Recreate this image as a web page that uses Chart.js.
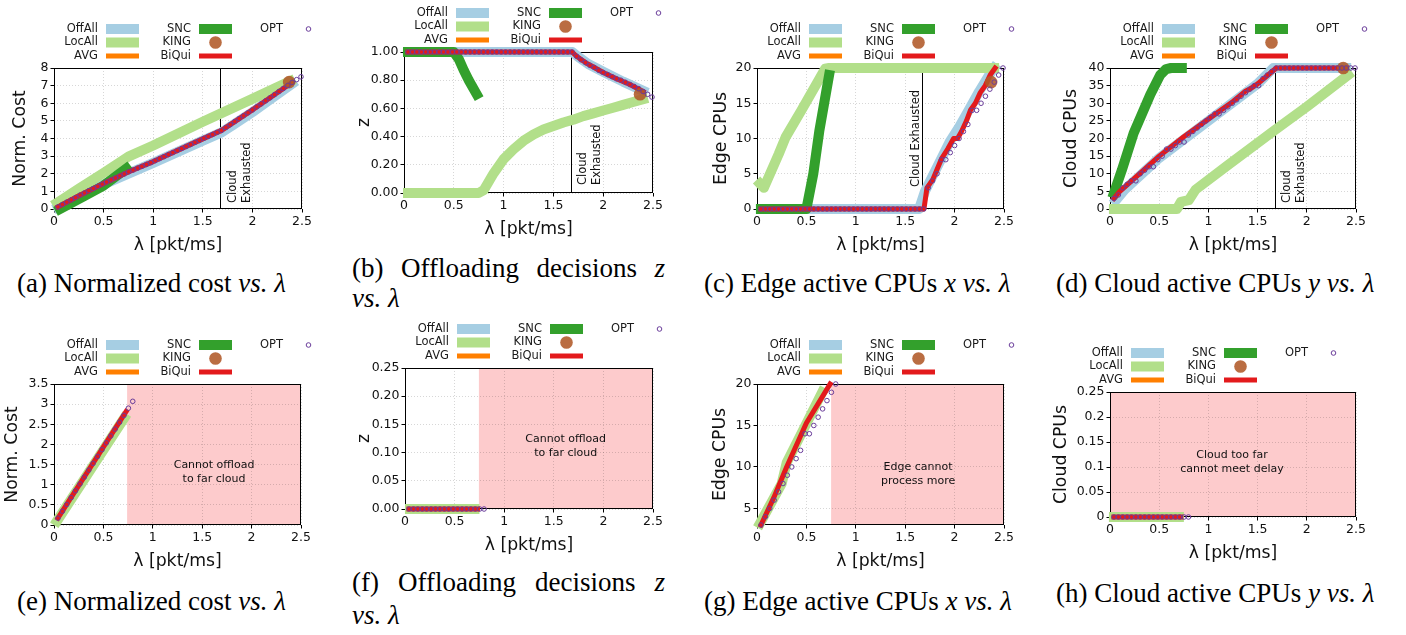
<!DOCTYPE html>
<html>
<head>
<meta charset="utf-8">
<script src="https://cdn.jsdelivr.net/npm/chart.js@4.4.1/dist/chart.umd.min.js"></script>
<style>
body { margin: 0; width: 1406px; height: 635px; overflow: hidden; background: #fff; position: relative; }
.cap { position: absolute; font-family: "Liberation Serif", "Times New Roman", serif; font-size: 27px; line-height: 30px; white-space: nowrap; color: #000; }
.cap.just { text-align: justify; text-align-last: justify; width: 313px; }
</style>
</head>
<body>
<div class="cap" style="left:17px;top:268px">(a) Normalized cost <i>vs.</i> <i>λ</i></div>
<div class="cap just" style="left:352px;top:253px">(b) Offloading decisions <i>z</i></div>
<div class="cap" style="left:352px;top:283px"><i>vs.</i> <i>λ</i></div>
<div class="cap" style="left:704px;top:268px">(c) Edge active CPUs <i>x</i> <i>vs.</i> <i>λ</i></div>
<div class="cap" style="left:1056px;top:268px">(d) Cloud active CPUs <i>y</i> <i>vs.</i> <i>λ</i></div>
<div class="cap" style="left:17px;top:586px">(e) Normalized cost <i>vs.</i> <i>λ</i></div>
<div class="cap just" style="left:352px;top:567px">(f) Offloading decisions <i>z</i></div>
<div class="cap" style="left:352px;top:600px"><i>vs.</i> <i>λ</i></div>
<div class="cap" style="left:704px;top:586px">(g) Edge active CPUs <i>x</i> <i>vs.</i> <i>λ</i></div>
<div class="cap" style="left:1056px;top:578px">(h) Cloud active CPUs <i>y</i> <i>vs.</i> <i>λ</i></div>
<script>
// arrival rates used by the OPT markers
const LAMBDA = [0.040,0.085,0.129,0.174,0.218,0.263,0.307,0.352,0.396,0.441,0.486,0.530,0.575,0.619,0.664,0.708,0.753,0.797,0.842,0.886,0.931,0.976,1.020,1.065,1.109,1.154,1.198,1.243,1.287,1.332,1.377,1.421,1.466,1.510,1.555,1.599,1.644,1.688,1.733,1.777,1.822,1.867,1.911,1.956,2.000,2.045,2.089,2.134,2.178,2.223,2.268,2.312,2.357,2.401,2.446,2.490];
const LAMBDA_LOW = [0.040,0.085,0.129,0.174,0.218,0.263,0.307,0.352,0.396,0.441,0.486,0.530,0.575,0.619,0.664,0.708,0.753,0.797];
const X_TICKS = [0, 0.5, 1, 1.5, 2, 2.5];

// (a) normalized cost
const A_OPT = [0.12,0.26,0.39,0.52,0.65,0.79,0.91,1.04,1.16,1.28,1.41,1.53,1.65,1.76,1.88,1.99,2.11,2.21,2.32,2.42,2.53,2.63,2.74,2.86,2.97,3.09,3.20,3.32,3.43,3.55,3.66,3.78,3.89,4.01,4.12,4.23,4.35,4.46,4.63,4.79,4.96,5.13,5.29,5.46,5.62,5.80,5.97,6.14,6.31,6.49,6.67,6.84,7.01,7.18,7.34,7.50];
const A_BIQUI_X = [0.04, 0.25, 0.5, 0.75, 1.0, 1.5, 1.69, 2.0, 2.2, 2.4];
const A_BIQUI = [0.12, 0.75, 1.45, 2.1, 2.69, 3.98, 4.46, 5.62, 6.4, 7.18];
const A_OFFALL_X = [0.04, 0.5, 1.0, 1.5, 1.69, 1.8, 2.0, 2.2, 2.4];
const A_OFFALL = [0.1, 1.4, 2.62, 3.88, 4.35, 4.75, 5.5, 6.3, 7.1];
const A_LOCALL_X = [0.03, 0.25, 0.5, 0.75, 1.0, 1.5, 2.0, 2.38];
const A_LOCALL = [0.35, 1.15, 2.05, 2.97, 3.6, 4.95, 6.25, 7.25];
const A_SNC_X = [0.06, 0.3, 0.5, 0.73];
const A_SNC = [0.0, 0.72, 1.33, 2.3];
const A_KING_X = [2.37];
const A_KING = [7.2];
const A_Y_TICKS = [0, 1, 2, 3, 4, 5, 6, 7, 8];

// (b) offloading decisions z
const B_OPT = [1,1,1,1,1,1,1,1,1,1,1,1,1,1,1,1,1,1,1,1,1,1,1,1,1,1,1,1,1,1,1,1,1,1,1,1,1,1,0.97,0.945,0.925,0.905,0.89,0.87,0.855,0.84,0.825,0.81,0.80,0.785,0.77,0.755,0.74,0.72,0.70,0.68];
const B_BIQUI_X = [0.04, 1.688, 1.733, 1.822, 1.911, 2.0, 2.134, 2.268, 2.401];
const B_BIQUI = [1, 1, 0.97, 0.925, 0.89, 0.855, 0.81, 0.77, 0.72];
const B_OFFALL_X = [0.04, 1.69, 1.75, 1.85, 2.0, 2.2, 2.4];
const B_OFFALL = [1, 1, 0.965, 0.915, 0.86, 0.79, 0.725];
const B_LOCALL_X = [0.04, 0.75, 0.8, 0.85, 0.9, 1.0, 1.1, 1.2, 1.3, 1.4, 1.5, 1.6, 1.7, 1.8, 1.9, 2.0, 2.1, 2.2, 2.3, 2.4];
const B_LOCALL = [0, 0, 0.02, 0.08, 0.14, 0.24, 0.31, 0.37, 0.415, 0.45, 0.475, 0.5, 0.52, 0.545, 0.565, 0.585, 0.605, 0.625, 0.645, 0.665];
const B_SNC_X = [0.04, 0.5, 0.55, 0.6, 0.65, 0.73];
const B_SNC = [1, 1, 0.95, 0.87, 0.8, 0.7];
const B_KING_X = [2.37];
const B_KING = [0.70];
const B_Y_TICKS = [0, 0.2, 0.4, 0.6, 0.8, 1.0];

// (c) edge active CPUs
const C_OPT = [0,0,0,0,0,0,0,0,0,0,0,0,0,0,0,0,0,0,0,0,0,0,0,0,0,0,0,0,0,0,0,0,0,0,0,0,0,0,3,4,5,7,7,8,9,10,11,12,14,14,15,16,17,18,19,20];
const C_BIQUI_X = [0.04, 1.69, 1.72, 1.78, 1.84, 1.87, 1.93, 1.99, 2.03, 2.07, 2.12, 2.16, 2.21, 2.26, 2.31, 2.36, 2.41];
const C_BIQUI = [0, 0, 3, 4.2, 6.2, 7.2, 8.5, 10, 10, 11, 12.5, 14, 15, 16.5, 17.5, 19, 20];
const C_OFFALL_X = [0.04, 1.64, 1.70, 1.76, 1.85, 1.95, 2.05, 2.15, 2.25, 2.35, 2.40];
const C_OFFALL = [0, 0, 2.5, 4.2, 6.7, 9.5, 11.7, 14.2, 16.7, 19.0, 20];
const C_LOCALL_X = [0.03, 0.07, 0.22, 0.29, 0.45, 0.69, 0.72, 2.40];
const C_LOCALL = [3.6, 3.0, 7.8, 10.2, 14.0, 19.9, 20, 20];
const C_SNC_X = [0.04, 0.50, 0.57, 0.63, 0.73];
const C_SNC = [0, 0, 5, 11, 19];
const C_KING_X = [2.37];
const C_KING = [18];
const C_Y_TICKS = [0, 5, 10, 15, 20];

// (d) cloud active CPUs
const D_OPT = [3,4,6,7,8,8,10,11,12,12,14,15,17,17,18,19,19,21,22,23,24,25,26,27,27,28,29,30,31,32,33,34,35,35,37,38,39,40,40,40,40,40,40,40,40,40,40,40,40,40,40,40,40,40,40,40];
const D_BIQUI_X = [0.04, 0.10, 0.20, 0.50, 0.75, 1.00, 1.25, 1.38, 1.42, 1.50, 1.69, 2.40];
const D_BIQUI = [3, 5, 7.5, 15, 20.5, 25.5, 30.5, 33.5, 34, 35.5, 40, 40];
const D_OFFALL_X = [0.06, 0.15, 0.50, 1.00, 1.50, 1.66, 2.40];
const D_OFFALL = [2.5, 5.5, 14.5, 25, 35.5, 40, 40];
const D_LOCALL_X = [0.04, 0.68, 0.72, 0.80, 0.87, 1.20, 1.68, 2.00, 2.42];
const D_LOCALL = [0, 0, 2, 2.5, 5.5, 12.5, 22.5, 29, 38];
const D_SNC_X = [0.04, 0.12, 0.24, 0.41, 0.51, 0.57, 0.62, 0.73];
const D_SNC = [4.5, 11, 21.5, 32.5, 38, 39.7, 40, 40];
const D_KING_X = [2.37];
const D_KING = [40];
const D_Y_TICKS = [0, 5, 10, 15, 20, 25, 30, 35, 40];

// (e)-(h) far cloud
const E_OPT = [0.17,0.34,0.51,0.68,0.85,1.02,1.19,1.36,1.53,1.70,1.87,2.04,2.21,2.38,2.55,2.72,2.90,3.07];
const E_BIQUI_X = [0.04, 0.73];
const E_BIQUI = [0.17, 2.82];
const E_LOCALL_X = [0.03, 0.71];
const E_LOCALL = [0.1, 2.65];
const E_Y_TICKS = [0, 0.5, 1, 1.5, 2, 2.5, 3, 3.5];

const F_OPT = [0,0,0,0,0,0,0,0,0,0,0,0,0,0,0,0,0,0];
const F_BIQUI_X = [0.04, 0.73];
const F_BIQUI = [0, 0];
const F_LOCALL_X = [0.05, 0.70];
const F_LOCALL = [0, 0];
const F_Y_TICKS = [0, 0.05, 0.10, 0.15, 0.20, 0.25];

const G_OPT = [3,4,5,6,7,8,9,10,11,12,14,14,15,16,17,18,19,20];
const G_BIQUI_X = [0.04, 0.17, 0.30, 0.50, 0.74];
const G_BIQUI = [3, 6.3, 10, 15.3, 20];
const G_LOCALL_X = [0.03, 0.25, 0.30, 0.66];
const G_LOCALL = [3.2, 8, 10.5, 19];
const G_Y_TICKS = [5, 10, 15, 20];

const H_OPT = [0,0,0,0,0,0,0,0,0,0,0,0,0,0,0,0,0,0];
const H_BIQUI_X = [0.04, 0.72];
const H_BIQUI = [0, 0];
const H_LOCALL_X = [0.04, 0.70];
const H_LOCALL = [0, 0];
const H_Y_TICKS = [0, 0.05, 0.1, 0.15, 0.2, 0.25];

const FONT = '"DejaVu Sans", sans-serif';
const STYLE = {
  OffAll: { color: '#a6cee3', width: 10, order: 6 },
  LocAll: { color: '#b2df8a', width: 10, order: 5 },
  AVG:    { color: '#ff7f00', width: 5,  order: 4 },
  SNC:    { color: '#33a02c', width: 10, order: 3 },
  BiQui:  { color: '#e31a1c', width: 5,  order: 2 },
  KING:   { color: 'rgba(177,89,40,0.88)', radius: 6.3, order: 1 },
  OPT:    { color: '#6a3d9a', radius: 2.3, order: 0 }
};
const LEGEND = [
  { name: 'OffAll', col: 0, row: 0 }, { name: 'LocAll', col: 0, row: 1 }, { name: 'AVG', col: 0, row: 2 },
  { name: 'SNC', col: 1, row: 0 }, { name: 'KING', col: 1, row: 1 }, { name: 'BiQui', col: 1, row: 2 },
  { name: 'OPT', col: 2, row: 0 }
];

function pts(xs, ys) { return xs.map((x, i) => ({ x: x, y: ys[i] })); }

function lineSet(name, xs, ys) {
  const s = STYLE[name];
  return { label: name, data: pts(xs, ys), showLine: true, borderColor: s.color, borderWidth: s.width,
    pointRadius: 0, borderCapStyle: 'square', borderJoinStyle: 'round', tension: 0, order: s.order, clip: false };
}
function kingSet(xs, ys) {
  const s = STYLE.KING;
  return { label: 'KING', data: pts(xs, ys), showLine: false, pointRadius: s.radius, borderWidth: 0,
    backgroundColor: s.color, order: s.order, clip: false };
}
function optSet(xs, ys) {
  const s = STYLE.OPT;
  return { label: 'OPT', data: pts(xs, ys), showLine: false, pointRadius: s.radius, borderWidth: 1,
    borderColor: s.color, backgroundColor: 'rgba(0,0,0,0)', order: s.order, clip: false };
}

const trim = v => String(parseFloat(Number(v).toFixed(2)));
const fix2 = v => Number(v).toFixed(2);

const panelDeco = {
  id: 'panelDeco',
  beforeDraw(chart, args, o) {
    const { ctx, chartArea: ca, scales: { x } } = chart;
    if (o.shade) {
      const x0 = x.getPixelForValue(o.shade[0]), x1 = x.getPixelForValue(o.shade[1]);
      ctx.save();
      ctx.fillStyle = '#fdcbcc';
      ctx.fillRect(x0, ca.top, x1 - x0, ca.bottom - ca.top);
      ctx.restore();
    }
  },
  beforeDatasetsDraw(chart, args, o) {
    const { ctx, chartArea: ca, scales: { x } } = chart;
    ctx.save();
    ctx.strokeStyle = '#000';
    ctx.lineWidth = 1;
    ctx.strokeRect(ca.left + 0.5, ca.top + 0.5, ca.right - ca.left - 1, ca.bottom - ca.top - 1);
    if (o.vline) {
      const px = Math.round(x.getPixelForValue(o.vline)) + 0.5;
      ctx.beginPath();
      ctx.moveTo(px, ca.top);
      ctx.lineTo(px, ca.bottom);
      ctx.stroke();
    }
    ctx.restore();
  },
  afterDatasetsDraw(chart, args, o) {
    const { ctx, chartArea: ca, scales: { x, y } } = chart;
    ctx.save();
    ctx.fillStyle = '#111';
    if (o.vtext) {
      const px = x.getPixelForValue(o.vline);
      ctx.font = '11.5px ' + FONT;
      ctx.textAlign = 'left';
      ctx.textBaseline = 'middle';
      o.vtext.forEach((t, i) => {
        ctx.save();
        ctx.translate(px + o.vtextDx[i], ca.bottom - o.vtextBottom);
        ctx.rotate(-Math.PI / 2);
        ctx.fillText(t, 0, 0);
        ctx.restore();
      });
    }
    if (o.note) {
      ctx.font = '11px ' + FONT;
      ctx.textAlign = 'center';
      ctx.textBaseline = 'middle';
      const px = x.getPixelForValue(o.noteAt[0]), py = y.getPixelForValue(o.noteAt[1]);
      o.note.forEach((t, i) => ctx.fillText(t, px, py + (i - (o.note.length - 1) / 2) * 14));
    }
    ctx.restore();
  },
  afterDraw(chart, args, o) {
    const { ctx, chartArea: ca } = chart;
    const base = ca.left + (o.legendShift || 0);
    const textRight = [44, 137, 229], swStart = [52, 145, 239], swEnd = [85, 178, 270];
    const rowY = [-39, -25.5, -12];
    ctx.save();
    ctx.font = '11.5px ' + FONT;
    ctx.textAlign = 'right';
    ctx.textBaseline = 'middle';
    LEGEND.forEach(it => {
      const s = STYLE[it.name];
      const yy = ca.top + rowY[it.row];
      ctx.fillStyle = '#1a1a1a';
      ctx.fillText(it.name, base + textRight[it.col], yy);
      const x0 = base + swStart[it.col], x1 = base + swEnd[it.col];
      if (s.width) {
        ctx.strokeStyle = s.color;
        ctx.lineWidth = s.width;
        ctx.lineCap = 'butt';
        ctx.beginPath();
        ctx.moveTo(x0, yy);
        ctx.lineTo(x1, yy);
        ctx.stroke();
      } else if (it.name === 'KING') {
        ctx.fillStyle = s.color;
        ctx.beginPath();
        ctx.arc((x0 + x1) / 2, yy, s.radius, 0, Math.PI * 2);
        ctx.fill();
      } else {
        ctx.strokeStyle = s.color;
        ctx.lineWidth = 1;
        ctx.beginPath();
        ctx.arc((x0 + x1) / 2, yy, s.radius, 0, Math.PI * 2);
        ctx.stroke();
      }
    });
    ctx.restore();
  }
};

function makePanel(p) {
  const cx = p.pl - 62, cy = p.pt - 52;
  const W = p.pr + 30 - cx, H = p.pb + 50 - cy;
  const cv = document.createElement('canvas');
  cv.width = W;
  cv.height = H;
  cv.style.cssText = 'position:absolute;left:' + cx + 'px;top:' + cy + 'px;width:' + W + 'px;height:' + H + 'px';
  document.body.appendChild(cv);
  const titleFont = { family: FONT, size: 17.3, lineHeight: 1.2 };
  const tickFont = { family: FONT, size: 12.5 };
  const grid = { color: 'rgba(0,0,0,0.2)', lineWidth: 0.8, tickLength: 3.5, tickColor: '#000', tickWidth: 1, drawTicks: true };
  new Chart(cv, {
    type: 'scatter',
    data: { datasets: p.sets },
    options: {
      responsive: false,
      animation: false,
      devicePixelRatio: 1,
      layout: { padding: { top: 52, right: 30, left: 0, bottom: 0 } },
      plugins: { legend: { display: false }, tooltip: { enabled: false }, panelDeco: p.deco },
      scales: {
        x: {
          type: 'linear', min: 0, max: 2.5,
          afterFit: s => { s.height = 50; },
          afterBuildTicks: s => { s.ticks = X_TICKS.map(v => ({ value: v })); },
          ticks: { font: tickFont, color: '#111', padding: 2, maxRotation: 0, autoSkip: false, callback: trim },
          grid: grid,
          border: { display: false, dash: [1, 2] },
          title: { display: true, text: 'λ [pkt/ms]', color: '#111', font: titleFont, padding: { top: 0, bottom: 13 - 10.38 } }
        },
        y: {
          type: 'linear', min: p.yMin, max: p.yMax,
          afterFit: s => { s.width = 62; },
          afterBuildTicks: s => { s.ticks = p.yTicks.map(v => ({ value: v })); },
          ticks: { font: tickFont, color: '#111', padding: 2, autoSkip: false, callback: p.yFmt },
          grid: grid,
          border: { display: false, dash: [1, 2] },
          title: { display: true, text: p.yTitle, color: '#111', font: titleFont, padding: { top: p.yTitleX - cx - 10.38, bottom: 0 } }
        }
      }
    },
    plugins: [panelDeco]
  });
}

makePanel({
  pl: 54, pt: 68, pr: 302, pb: 209, yMin: 0, yMax: 8, yTicks: A_Y_TICKS, yFmt: trim, yTitle: 'Norm. Cost', yTitleX: 21,
  deco: { vline: 1.675, vtext: ['Cloud', 'Exhausted'], vtextDx: [13, 27], vtextBottom: 6 },
  sets: [lineSet('OffAll', A_OFFALL_X, A_OFFALL), lineSet('LocAll', A_LOCALL_X, A_LOCALL), lineSet('SNC', A_SNC_X, A_SNC),
    lineSet('BiQui', A_BIQUI_X, A_BIQUI), kingSet(A_KING_X, A_KING), optSet(LAMBDA, A_OPT)]
});
makePanel({
  pl: 404, pt: 52, pr: 653, pb: 193, yMin: 0, yMax: 1, yTicks: B_Y_TICKS, yFmt: fix2, yTitle: 'z', yTitleX: 365,
  deco: { vline: 1.675, vtext: ['Cloud', 'Exhausted'], vtextDx: [12, 26], vtextBottom: 8 },
  sets: [lineSet('OffAll', B_OFFALL_X, B_OFFALL), lineSet('LocAll', B_LOCALL_X, B_LOCALL), lineSet('SNC', B_SNC_X, B_SNC),
    lineSet('BiQui', B_BIQUI_X, B_BIQUI), kingSet(B_KING_X, B_KING), optSet(LAMBDA, B_OPT)]
});
makePanel({
  pl: 757, pt: 68, pr: 1004, pb: 209, yMin: 0, yMax: 20, yTicks: C_Y_TICKS, yFmt: trim, yTitle: 'Edge CPUs', yTitleX: 722,
  deco: { vline: 1.675, vtext: ['Cloud Exhausted'], vtextDx: [-6], vtextBottom: 22 },
  sets: [lineSet('OffAll', C_OFFALL_X, C_OFFALL), lineSet('LocAll', C_LOCALL_X, C_LOCALL), lineSet('SNC', C_SNC_X, C_SNC),
    lineSet('BiQui', C_BIQUI_X, C_BIQUI), kingSet(C_KING_X, C_KING), optSet(LAMBDA, C_OPT)]
});
makePanel({
  pl: 1110, pt: 68, pr: 1356, pb: 209, yMin: 0, yMax: 40, yTicks: D_Y_TICKS, yFmt: trim, yTitle: 'Cloud CPUs', yTitleX: 1072,
  deco: { vline: 1.675, vtext: ['Cloud', 'Exhausted'], vtextDx: [12, 26], vtextBottom: 6 },
  sets: [lineSet('OffAll', D_OFFALL_X, D_OFFALL), lineSet('LocAll', D_LOCALL_X, D_LOCALL), lineSet('SNC', D_SNC_X, D_SNC),
    lineSet('BiQui', D_BIQUI_X, D_BIQUI), kingSet(D_KING_X, D_KING), optSet(LAMBDA, D_OPT)]
});
makePanel({
  pl: 54, pt: 384, pr: 301, pb: 525, yMin: 0, yMax: 3.5, yTicks: E_Y_TICKS, yFmt: trim, yTitle: 'Norm. Cost', yTitleX: 12.5,
  deco: { shade: [0.74, 2.5], note: ['Cannot offload', 'to far cloud'], noteAt: [1.62, 1.32] },
  sets: [lineSet('LocAll', E_LOCALL_X, E_LOCALL), lineSet('BiQui', E_BIQUI_X, E_BIQUI), optSet(LAMBDA_LOW, E_OPT)]
});
makePanel({
  pl: 405, pt: 368, pr: 653, pb: 509, yMin: 0, yMax: 0.25, yTicks: F_Y_TICKS, yFmt: fix2, yTitle: 'z', yTitleX: 365,
  deco: { shade: [0.745, 2.5], note: ['Cannot offload', 'to far cloud'], noteAt: [1.62, 0.112] },
  sets: [lineSet('LocAll', F_LOCALL_X, F_LOCALL), lineSet('BiQui', F_BIQUI_X, F_BIQUI), optSet(LAMBDA_LOW, F_OPT)]
});
makePanel({
  pl: 757, pt: 384, pr: 1004, pb: 525, yMin: 3, yMax: 20, yTicks: G_Y_TICKS, yFmt: trim, yTitle: 'Edge CPUs', yTitleX: 721,
  deco: { shade: [0.75, 2.5], note: ['Edge cannot', 'process more'], noteAt: [1.63, 9.15] },
  sets: [lineSet('LocAll', G_LOCALL_X, G_LOCALL), lineSet('BiQui', G_BIQUI_X, G_BIQUI), optSet(LAMBDA_LOW, G_OPT)]
});
makePanel({
  pl: 1110, pt: 392, pr: 1356, pb: 517, yMin: 0, yMax: 0.25, yTicks: H_Y_TICKS, yFmt: trim, yTitle: 'Cloud CPUs', yTitleX: 1062,
  deco: { shade: [0, 2.5], note: ['Cloud too far', 'cannot meet delay'], noteAt: [1.24, 0.11], legendShift: -31 },
  sets: [lineSet('LocAll', H_LOCALL_X, H_LOCALL), lineSet('BiQui', H_BIQUI_X, H_BIQUI), optSet(LAMBDA_LOW, H_OPT)]
});
</script>
</body>
</html>
